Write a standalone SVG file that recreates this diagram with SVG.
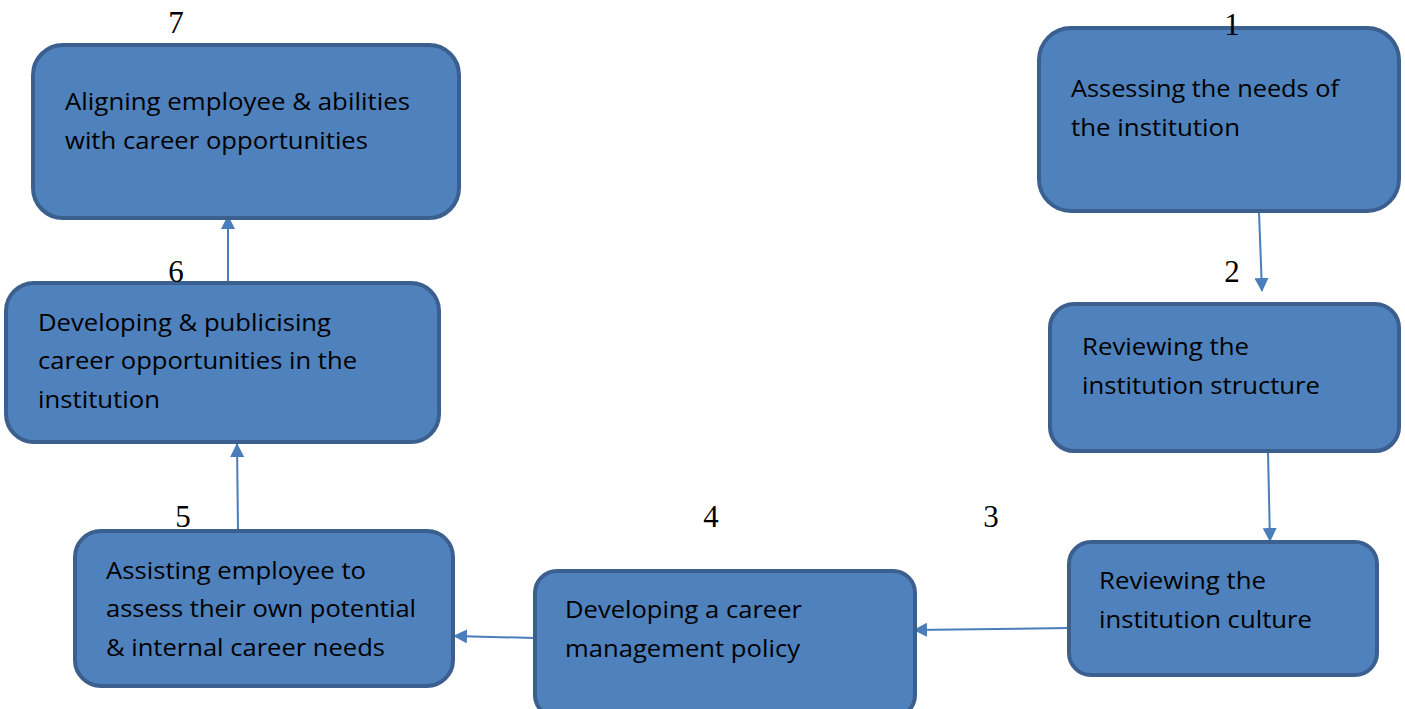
<svg xmlns="http://www.w3.org/2000/svg" width="1405" height="709" viewBox="0 0 1405 709">
  <style>
    .box { fill: #4f81bd; stroke: #3b5f8e; stroke-width: 4; }
    .lbl { font-family: "Open Sans", "Liberation Sans", sans-serif; font-size: 24px; fill: #000; }
    .num { font-family: "Liberation Serif", serif; font-size: 31px; fill: #000; text-anchor: middle; }
    .conn { stroke: #4a7ebb; stroke-width: 2; fill: none; marker-end: url(#arrowhead); }
  </style>
  <defs>
    <marker id="arrowhead" viewBox="0 0 14 14" refX="13" refY="7" markerWidth="14" markerHeight="14" markerUnits="userSpaceOnUse" orient="auto">
      <path d="M0,0 L14,7 L0,14 z" fill="#4a7ebb"/>
    </marker>
  </defs>
  <rect width="1405" height="709" fill="#fff"/>

  <g id="connectors">
    <line class="conn" x1="1259" y1="212" x2="1262" y2="291"/>
    <line class="conn" x1="1268" y1="452" x2="1270" y2="541"/>
    <line class="conn" x1="1069" y1="628" x2="914" y2="630"/>
    <line class="conn" x1="535" y1="638" x2="454" y2="636"/>
    <line class="conn" x1="238" y1="530" x2="237" y2="444"/>
    <line class="conn" x1="228" y1="282" x2="228" y2="216"/>
  </g>

  <g id="node1">
    <rect class="box" x="1039" y="28" width="360" height="183" rx="32"/>
    <text class="num" x="1232" y="35">1</text>
    <text class="lbl" x="1071" y="97" textLength="268" lengthAdjust="spacingAndGlyphs">Assessing the needs of</text>
    <text class="lbl" x="1071" y="136" textLength="169" lengthAdjust="spacingAndGlyphs">the institution</text>
  </g>

  <g id="node2">
    <rect class="box" x="1050" y="304" width="349" height="147" rx="24"/>
    <text class="num" x="1232" y="282">2</text>
    <text class="lbl" x="1082" y="355" textLength="167" lengthAdjust="spacingAndGlyphs">Reviewing the</text>
    <text class="lbl" x="1082" y="394" textLength="238" lengthAdjust="spacingAndGlyphs">institution structure</text>
  </g>

  <g id="node3">
    <rect class="box" x="1069" y="542" width="308" height="133" rx="22"/>
    <text class="num" x="991" y="527">3</text>
    <text class="lbl" x="1099" y="589" textLength="167" lengthAdjust="spacingAndGlyphs">Reviewing the</text>
    <text class="lbl" x="1099" y="628" textLength="213" lengthAdjust="spacingAndGlyphs">institution culture</text>
  </g>

  <g id="node4">
    <rect class="box" x="535" y="571" width="380" height="146" rx="22"/>
    <text class="num" x="711" y="527">4</text>
    <text class="lbl" x="565" y="618" textLength="237" lengthAdjust="spacingAndGlyphs">Developing a career</text>
    <text class="lbl" x="565" y="657" textLength="235" lengthAdjust="spacingAndGlyphs">management policy</text>
  </g>

  <g id="node5">
    <rect class="box" x="75" y="531" width="378" height="155" rx="26"/>
    <text class="num" x="183" y="527">5</text>
    <text class="lbl" x="106" y="579" textLength="260" lengthAdjust="spacingAndGlyphs">Assisting employee to</text>
    <text class="lbl" x="106" y="617" textLength="310" lengthAdjust="spacingAndGlyphs">assess their own potential</text>
    <text class="lbl" x="106" y="656" textLength="279" lengthAdjust="spacingAndGlyphs">&amp; internal career needs</text>
  </g>

  <g id="node6">
    <rect class="box" x="6" y="283" width="433" height="159" rx="28"/>
    <text class="num" x="176" y="282">6</text>
    <text class="lbl" x="38" y="331" textLength="293" lengthAdjust="spacingAndGlyphs">Developing &amp; publicising</text>
    <text class="lbl" x="38" y="369" textLength="319" lengthAdjust="spacingAndGlyphs">career opportunities in the</text>
    <text class="lbl" x="38" y="408" textLength="122" lengthAdjust="spacingAndGlyphs">institution</text>
  </g>

  <g id="node7">
    <rect class="box" x="33" y="45" width="426" height="173" rx="30"/>
    <text class="num" x="176" y="33">7</text>
    <text class="lbl" x="65" y="110" textLength="345" lengthAdjust="spacingAndGlyphs">Aligning employee &amp; abilities</text>
    <text class="lbl" x="65" y="149" textLength="303" lengthAdjust="spacingAndGlyphs">with career opportunities</text>
  </g>
</svg>
